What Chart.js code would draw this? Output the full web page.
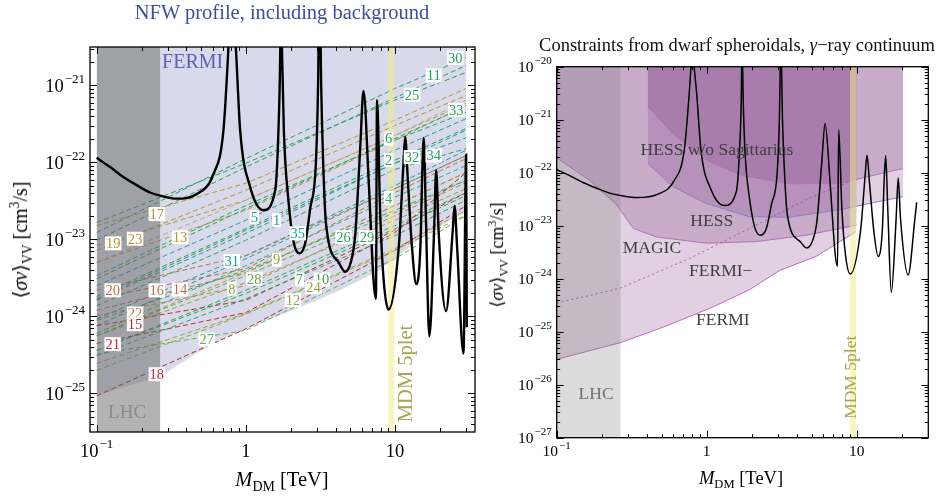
<!DOCTYPE html>
<html lang="en">
<head>
<meta charset="UTF-8">
<title>Dark matter annihilation into VV: NFW and dwarf spheroidal constraints</title>
<style>
  body { margin: 0; background: #fff; width: 951px; height: 496px; position: relative; overflow: hidden;
         font-family: "Liberation Serif", "DejaVu Serif", serif; }
  canvas { position: absolute; top: 0; }
  #leftChart { left: 0; }
  #rightChart { left: 480px; }
  .lbl { position: absolute; white-space: nowrap; transform: translate(-50%, -50%); line-height: 1; }
  .rot { transform: translate(-50%, -50%) rotate(-90deg); }
  sub, sup { line-height: 0; font-size: 0.68em; }
</style>
<script src="https://cdn.jsdelivr.net/npm/chart.js"></script>
</head>
<body>
<canvas id="leftChart" width="480" height="496"></canvas>
<canvas id="rightChart" width="471" height="496"></canvas>

<div class="lbl" style="left:282px;top:12px;font-size:20.5px;color:#3c4f9f">NFW profile, including background</div>
<div class="lbl" style="left:737px;top:45px;font-size:18.5px;color:#111">Constraints from dwarf spheroidals, <i>γ</i>−ray continuum</div>
<div class="lbl rot" style="left:20px;top:240px;font-size:20px">⟨<i>σv</i>⟩<sub>VV</sub> [cm<sup>3</sup>/s]</div>
<div class="lbl rot" style="left:497px;top:255px;font-size:18px">⟨<i>σv</i>⟩<sub>VV</sub> [cm<sup>3</sup>/s]</div>
<div class="lbl" style="left:282px;top:479px;font-size:20.5px"><i>M</i><sub>DM</sub> [TeV]</div>
<div class="lbl" style="left:741px;top:478px;font-size:18.5px"><i>M</i><sub>DM</sub> [TeV]</div>

<script>
// ---- black curve: DM mass [TeV] and log10 <sigma v>_VV [cm^3/s] (same in both panels)
const curveMass = [0.1, 0.123, 0.151, 0.195, 0.228, 0.266, 0.344, 0.469, 0.607, 0.708,
  0.764, 0.79, 0.805, 0.82, 0.858, 0.916, 1.07, 1.31, 1.574, 1.655,
  1.70, 1.72, 1.75, 1.80, 1.93, 2.1, 2.29, 2.5, 2.70, 2.95, 3.05, 3.12,
  3.2, 3.3, 3.45, 4.2, 4.64, 5.05, 5.42, 5.85, 6.15, 6.66, 7.18, 7.45,
  7.58, 7.96, 8.4, 9.06, 10.6, 11.4, 11.7, 12.2, 13.0, 13.9,
  14.8, 15.3, 15.6, 16.1, 17.0, 18.3, 18.9, 19.6, 22.0, 24.4,
  25.1, 26.1, 28.8, 30.0, 30.3];
const curveLog = [-21.94, -22.06, -22.19, -22.32, -22.39, -22.43, -22.47, -22.41, -22.15, -21.58,
  -20.52, -19.9, -19.5, -19.9, -20.52, -21.58, -22.32, -22.62, -22.36, -21.58,
  -20.6, -19.5, -20.6, -21.6, -22.49, -23.05, -23.18, -23.05, -22.6, -22.0, -21.0, -19.5,
  -21.0, -22.0, -22.8, -23.3, -23.42, -23.3, -22.93, -21.8, -21.07, -22.23, -23.53, -23.77,
  -21.19, -22.67, -23.53, -23.91, -23.1, -22.02, -21.67, -22.23, -23.1, -23.58,
  -23.1, -22.02, -21.68, -22.67, -24.26, -22.88, -22.10, -22.88, -23.93, -22.88,
  -22.56, -23.1, -24.48, -21.9, -24.14];

// ---- left panel: the 35 annihilation channels (dashed), read at these masses
const channelMass = [0.1, 1, 10, 30];
const channelLog = [
  [-23.79, -22.92, -22.01, -21.58], [-23.74, -22.86, -21.97, -21.56], [-23.30, -22.49, -21.65, -21.19],
  [-24.22, -23.34, -22.45, -22.04], [-23.60, -22.75, -21.84, -21.43], [-23.51, -22.60, -21.69, -21.27],
  [-24.44, -23.70, -22.86, -22.43], [-24.25, -23.56, -22.75, -22.34], [-24.25, -23.43, -22.56, -22.13],
  [-24.51, -23.77, -22.95, -22.49], [-23.01, -22.06, -21.16, -20.74], [-24.70, -23.97, -23.14, -22.68],
  [-23.30, -22.62, -21.71, -21.26], [-23.92, -23.43, -22.56, -22.13], [-24.12, -23.79, -22.88, -22.39],
  [-23.77, -23.38, -22.39, -21.95], [-22.82, -22.27, -21.45, -21.04], [-25.03, -24.16, -23.14, -22.56],
  [-23.08, -22.49, -21.65, -21.23], [-23.66, -23.21, -22.34, -21.91], [-24.35, -23.95, -22.91, -22.13],
  [-23.99, -23.60, -22.69, -22.26], [-23.14, -22.36, -21.52, -21.13], [-24.61, -23.96, -23.12, -22.62],
  [-22.78, -22.01, -21.19, -20.83], [-24.05, -23.40, -22.62, -22.23], [-24.49, -24.18, -23.25, -22.69],
  [-24.25, -23.47, -22.65, -22.23], [-24.44, -23.66, -22.82, -22.39], [-22.91, -21.95, -21.04, -20.64],
  [-24.03, -23.21, -22.30, -21.84], [-23.77, -22.88, -22.01, -21.68], [-23.47, -22.56, -21.71, -21.35],
  [-23.86, -23.01, -22.09, -21.82], [-24.12, -23.25, -22.34, -21.91]];
const channelColor = ['#1b9e9a', '#22a45a', '#c9a27e', '#33b06a', '#1b9e9a', '#22a45a',
  '#2fa84f', '#93a83a', '#93a83a', '#2fa84f', '#22a45a', '#93a83a', '#b8962e', '#c0703c',
  '#c0282e', '#c0703c', '#b8962e', '#c0282e', '#b8962e', '#c0703c', '#c0282e', '#c68050',
  '#b8962e', '#93a83a', '#22a45a', '#2fa84f', '#5cb84a', '#6aa844', '#2fa84f', '#22a45a',
  '#1b9e9a', '#22a45a', '#22a45a', '#22a45a', '#1b9e9a'];

// channel number labels
const labelIds = [30, 11, 25, 33, 6, 2, 32, 34, 4, 17, 5, 1, 35, 26, 29, 19, 23, 13, 31, 9,
  28, 7, 10, 24, 8, 20, 16, 14, 12, 22, 15, 21, 27, 18];
const labelMass = [25.4, 18.2, 13.0, 25.8, 9.06, 9.06, 13.0, 18.2, 9.06, 0.253, 1.14, 1.61, 2.23, 4.52, 6.49,
  0.129, 0.181, 0.362, 0.805, 1.61, 1.14, 2.29, 3.24, 2.84, 0.805, 0.128, 0.253, 0.362, 2.07, 0.181,
  0.181, 0.128, 0.547, 0.253];
const labelLog = [-20.64, -20.87, -21.12, -21.32, -21.69, -21.97, -21.93, -21.91, -22.46, -22.67,
  -22.71, -22.75, -22.92, -22.97, -22.97, -23.05, -22.99, -22.97, -23.28, -23.26,
  -23.51, -23.52, -23.52, -23.62, -23.64, -23.66, -23.66, -23.65, -23.79, -23.96,
  -24.10, -24.36, -24.30, -24.75];

// lower edge of the FERMI (NFW) excluded region
const fermiMass = [0.1, 0.269, 0.493, 0.826, 2.31, 4.29, 7.57, 15.2, 25.4, 30.1];
const fermiLog = [-25.03, -24.77, -24.45, -24.22, -23.88, -23.66, -23.42, -22.97, -22.71, -22.65];

// ---- right panel: dwarf spheroidal bounds
const dwFermiMass = [0.1, 0.264, 0.54, 1.107, 1.92, 3.08, 5.36, 9.9];
const dwFermiLog = [-25.52, -25.21, -24.89, -24.53, -24.21, -23.84, -23.58, -23.11];
const dwFermiMinusMass = [0.1, 0.264, 0.766, 2.13, 4.83, 8.94];
const dwFermiMinusLog = [-24.46, -24.18, -23.62, -22.99, -22.48, -22.17];
const magicMass = [0.1, 0.165, 0.25, 0.324, 0.459, 0.99, 2.13, 4.59, 10];
const magicLog = [-21.72, -22.14, -22.6, -23.05, -23.21, -23.33, -23.30, -23.18, -22.99];
const hessMass = [0.405, 0.593, 0.99, 1.92, 3.56, 7.65, 20.4];
const hessLog = [-21.82, -22.26, -22.58, -22.83, -22.84, -22.70, -22.45];
const hessNoSagMass = [0.405, 0.593, 0.99, 1.65, 3.56, 7.65, 20.4];
const hessNoSagLog = [-20.75, -21.26, -21.76, -22.04, -22.21, -22.20, -21.92];

// vertical bands [TeV]
const lhcBand = [0.1, 0.267];
const mdmBand = [9.0, 9.95];

// axes
const leftX = [0.0902, 34.4], leftY = [3.16e-26, 3.16e-21];
const rightX = [0.1, 30], rightY = [1e-27, 1e-20];
const xMajor = [0.1, 1, 10];
const xTickLabels = [['10', '−1'], ['1', ''], ['10', '']];
const leftYMajor = [1e-25, 1e-24, 1e-23, 1e-22, 1e-21];
const leftYLabels = [['10', '−25'], ['10', '−24'], ['10', '−23'], ['10', '−22'], ['10', '−21']];
const rightYMajor = [1e-27, 1e-26, 1e-25, 1e-24, 1e-23, 1e-22, 1e-21, 1e-20];
const rightYLabels = [['10', '−27'], ['10', '−26'], ['10', '−25'], ['10', '−24'], ['10', '−23'], ['10', '−22'], ['10', '−21'], ['10', '−20']];

const SERIF = '"Liberation Serif", "DejaVu Serif", serif';

function pts(mass, logs) {
  return mass.map((m, i) => ({ x: m, y: Math.pow(10, logs[i]) }));
}
function band(r, top) {
  return [{ x: r[0], y: top }, { x: r[1], y: top }];
}
function minorTicks(min, max) {
  const out = [];
  for (let d = Math.floor(Math.log10(min)); d <= Math.ceil(Math.log10(max)); d++) {
    for (let m = 2; m <= 9; m++) {
      const v = m * Math.pow(10, d);
      if (v > min * 1.001 && v < max * 0.999) out.push(v);
    }
  }
  return out;
}

function drawPow(ctx, base, exp, x, y, align, o) {
  ctx.font = o.baseFont;
  const wb = ctx.measureText(base).width;
  ctx.font = o.expFont;
  const we = exp ? ctx.measureText(exp).width + 1 : 0;
  const x0 = align === 'right' ? x - wb - we : x - (wb + we) / 2;
  ctx.textAlign = 'left';
  ctx.font = o.baseFont;
  ctx.fillText(base, x0, y);
  if (exp) {
    ctx.font = o.expFont;
    ctx.fillText(exp, x0 + wb + 1, y - o.raise);
  }
}

// frame, inward ticks on all four sides, and 10^n tick labels
const framePlugin = {
  id: 'frame',
  afterDraw(chart, args, o) {
    const { ctx, chartArea: a, scales: { x, y } } = chart;
    ctx.save();
    ctx.strokeStyle = '#000';
    ctx.lineWidth = 1;
    ctx.beginPath();
    const tx = (v, len) => {
      const p = Math.round(x.getPixelForValue(v)) + 0.5;
      ctx.moveTo(p, a.bottom); ctx.lineTo(p, a.bottom - len);
      ctx.moveTo(p, a.top); ctx.lineTo(p, a.top + len);
    };
    const ty = (v, len) => {
      const p = Math.round(y.getPixelForValue(v)) + 0.5;
      ctx.moveTo(a.left, p); ctx.lineTo(a.left + len, p);
      ctx.moveTo(a.right, p); ctx.lineTo(a.right - len, p);
    };
    o.xMajor.forEach(v => tx(v, o.major));
    minorTicks(x.min, x.max).forEach(v => tx(v, o.minor));
    o.yMajor.forEach(v => ty(v, o.major));
    minorTicks(y.min, y.max).forEach(v => ty(v, o.minor));
    ctx.stroke();
    ctx.lineWidth = 1.3;
    ctx.strokeRect(a.left, a.top, a.right - a.left, a.bottom - a.top);

    ctx.fillStyle = '#000';
    ctx.textBaseline = 'alphabetic';
    o.xMajor.forEach((v, i) => {
      drawPow(ctx, o.xLabels[i][0], o.xLabels[i][1], x.getPixelForValue(v), a.bottom + o.xBase, 'center', o);
    });
    o.yMajor.forEach((v, i) => {
      drawPow(ctx, o.yLabels[i][0], o.yLabels[i][1], a.left - 5, y.getPixelForValue(v) + o.yBase, 'right', o);
    });
    ctx.restore();
  }
};

// text inside the plot: region names and channel numbers
const notesPlugin = {
  id: 'notes',
  afterDatasetsDraw(chart, args, o) {
    const { ctx, scales: { x, y } } = chart;
    ctx.save();
    ctx.textAlign = 'center';
    ctx.textBaseline = 'middle';
    (o.boxes || []).forEach(b => {
      const px = x.getPixelForValue(b.m), py = y.getPixelForValue(Math.pow(10, b.l));
      ctx.font = '14.5px ' + SERIF;
      const w = ctx.measureText(b.text).width + 2;
      ctx.fillStyle = '#fff';
      ctx.fillRect(px - w / 2, py - 7, w, 14);
      ctx.fillStyle = b.color;
      ctx.fillText(b.text, px, py + 1);
    });
    (o.texts || []).forEach(t => {
      const px = x.getPixelForValue(t.m), py = y.getPixelForValue(Math.pow(10, t.l));
      ctx.save();
      ctx.translate(px, py);
      if (t.rot) ctx.rotate(-Math.PI / 2);
      ctx.font = t.size + 'px ' + SERIF;
      ctx.fillStyle = t.color;
      ctx.fillText(t.text, 0, 0);
      ctx.restore();
    });
    ctx.restore();
  }
};

function baseOptions(pad, xr, yr) {
  return {
    responsive: false,
    animation: false,
    events: [],
    layout: { padding: pad },
    elements: { point: { radius: 0 } },
    scales: {
      x: { type: 'logarithmic', min: xr[0], max: xr[1], display: false },
      y: { type: 'logarithmic', min: yr[0], max: yr[1], display: false }
    },
    plugins: { legend: { display: false }, tooltip: { enabled: false } }
  };
}

// ---------- left panel ----------
const leftSets = [
  { data: pts(curveMass, curveLog), borderColor: '#000', borderWidth: 2.4,
    cubicInterpolationMode: 'monotone', fill: false, order: 0 },
  { data: band(mdmBand, leftY[1]), borderWidth: 0, backgroundColor: 'rgba(238,238,140,0.55)', fill: 'start', order: 1 },
  { data: band(lhcBand, leftY[1]), borderWidth: 0, backgroundColor: 'rgba(100,100,100,0.49)', fill: 'start', order: 2 },
  { data: pts(fermiMass, fermiLog), borderWidth: 0, backgroundColor: '#d8d9ea', fill: 'end', order: 5 }
];
channelLog.forEach((logs, i) => {
  leftSets.push({ data: pts(channelMass, logs), borderColor: channelColor[i], borderWidth: 1,
    borderDash: [5, 3], fill: false, order: 3 });
});

const leftOpts = baseOptions({ left: 90, top: 47, right: 5, bottom: 64 }, leftX, leftY);
leftOpts.plugins.frame = {
  xMajor: xMajor, xLabels: xTickLabels, yMajor: leftYMajor, yLabels: leftYLabels,
  baseFont: '18.5px ' + SERIF, expFont: '13px ' + SERIF, raise: 9, xBase: 25, yBase: 7, major: 7, minor: 4
};
leftOpts.plugins.notes = {
  boxes: labelIds.map((id, i) => ({ text: String(id), m: labelMass[i], l: labelLog[i], color: channelColor[id - 1] })),
  texts: [
    { text: 'FERMI', m: 0.44, l: -20.71, color: '#5a63b3', size: 20 },
    { text: 'LHC', m: 0.16, l: -25.25, color: '#8a8a8a', size: 19 },
    { text: 'MDM 5plet', m: 11.9, l: -24.74, color: '#a9a455', size: 20.5, rot: true }
  ]
};
new Chart(document.getElementById('leftChart'), {
  type: 'line', data: { datasets: leftSets }, options: leftOpts, plugins: [framePlugin, notesPlugin]
});

// ---------- right panel ----------
const PURPLE = 'rgba(125,60,130,0.24)';
const rightMass = curveMass.filter(m => m <= 25.1);
const rightSets = [
  { data: pts(rightMass, curveLog.slice(0, rightMass.length)), borderColor: '#000', borderWidth: 1.5,
    cubicInterpolationMode: 'monotone', fill: false, order: 0 },
  { data: band(lhcBand, rightY[1]), borderWidth: 0, backgroundColor: 'rgba(120,120,120,0.26)', fill: 'start', order: 1 },
  { data: band(mdmBand, rightY[1]), borderWidth: 0, backgroundColor: 'rgba(238,238,140,0.55)', fill: 'start', order: 2 },
  { data: pts(dwFermiMinusMass, dwFermiMinusLog), borderColor: '#a055a8', borderWidth: 1,
    borderDash: [2, 3], fill: false, order: 3 },
  { data: pts(hessNoSagMass, hessNoSagLog), borderColor: '#b46fbb', borderWidth: 1,
    backgroundColor: PURPLE, fill: 'end', order: 4 },
  { data: pts(hessMass, hessLog), borderColor: '#8a80c4', borderWidth: 1,
    backgroundColor: PURPLE, fill: 'end', order: 5 },
  { data: pts(magicMass, magicLog), borderColor: '#b46fbb', borderWidth: 1,
    backgroundColor: PURPLE, fill: 'end', order: 6 },
  { data: pts(dwFermiMass, dwFermiLog), borderColor: '#b46fbb', borderWidth: 1,
    backgroundColor: PURPLE, fill: 'end', order: 7 }
];
const rightOpts = baseOptions({ left: 76.7, top: 66.7, right: 22.7, bottom: 58.3 }, rightX, rightY);
rightOpts.plugins.frame = {
  xMajor: xMajor, xLabels: xTickLabels, yMajor: rightYMajor, yLabels: rightYLabels,
  baseFont: '15.5px ' + SERIF, expFont: '11px ' + SERIF, raise: 7.5, xBase: 18.5, yBase: 5, major: 7, minor: 3.5
};
rightOpts.plugins.notes = {
  texts: [
    { text: 'HESS w/o Sagittarius', m: 1.17, l: -21.57, color: '#404040', size: 17.5 },
    { text: 'HESS', m: 1.08, l: -22.91, color: '#404040', size: 17.5 },
    { text: 'MAGIC', m: 0.431, l: -23.42, color: '#404040', size: 17.5 },
    { text: 'FERMI−', m: 1.24, l: -23.87, color: '#404040', size: 17.5 },
    { text: 'FERMI', m: 1.28, l: -24.78, color: '#404040', size: 17.5 },
    { text: 'LHC', m: 0.183, l: -26.18, color: '#707070', size: 17.5 },
    { text: 'MDM 5plet', m: 9.16, l: -25.86, color: '#a9a455', size: 17.5, rot: true }
  ]
};
new Chart(document.getElementById('rightChart'), {
  type: 'line', data: { datasets: rightSets }, options: rightOpts, plugins: [framePlugin, notesPlugin]
});
</script>
</body>
</html>
